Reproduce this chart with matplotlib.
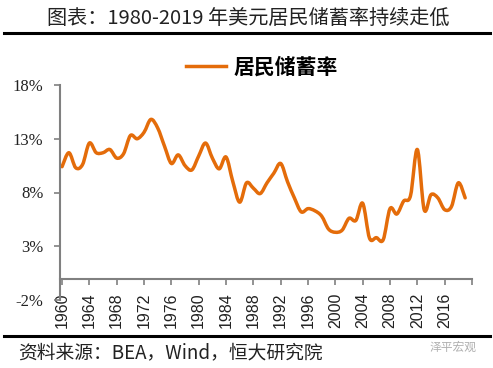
import numpy as np
import matplotlib
matplotlib.use("Agg")
import matplotlib.pyplot as plt
from matplotlib.path import Path
from matplotlib.patches import PathPatch
from matplotlib.lines import Line2D

# 数据：美国居民储蓄率 (%)
anos = list(range(1960, 2020))
taxa = [10.4, 11.7, 10.3, 10.6, 12.6, 11.7, 11.7, 12.0, 11.2, 11.6,
        13.3, 13.0, 13.6, 14.8, 14.0, 12.3, 10.7, 11.5, 10.5, 10.1,
        11.4, 12.6, 11.2, 10.2, 11.3, 9.0, 7.1, 8.9, 8.4, 7.9,
        8.9, 9.8, 10.7, 9.0, 7.5, 6.2, 6.5, 6.3, 5.8, 4.6,
        4.3, 4.5, 5.6, 5.4, 7.0, 3.75, 3.8, 3.6, 6.5, 6.0,
        7.2, 7.7, 12.0, 6.4, 7.8, 7.5, 6.4, 6.7, 8.9, 7.5]
yticks = [-2, 3, 8, 13, 18]
ylabels = ["-2%", "3%", "8%", "13%", "18%"]
xlabels = [str(a) for a in range(1960, 2020, 4)]

laranja = "#E46C0A"
cinza = "#808080"


def curva_suave(x, y):
    # curva tipo Excel (Catmull-Rom em Bezier)
    pts = np.column_stack([x, y]).astype(float)
    ext = np.vstack([pts[0], pts, pts[-1]])
    verts = [pts[0]]
    codes = [Path.MOVETO]
    for i in range(len(pts) - 1):
        p0, p1, p2, p3 = ext[i], ext[i + 1], ext[i + 2], ext[i + 3]
        c1 = p1 + (p2 - p0) / 6
        c2 = p2 - (p3 - p1) / 6
        verts += [c1, c2, p2]
        codes += [Path.CURVE4] * 3
    return Path(verts, codes)


fig = plt.figure(figsize=(4.93, 3.68), dpi=100)
ax = fig.add_axes([60 / 493, 1 - 300 / 368, 412 / 493, 215 / 368])

patch = PathPatch(curva_suave(anos, taxa), fill=False, edgecolor=laranja,
                  lw=2.5, capstyle="round", joinstyle="round")
ax.add_patch(patch)

ax.set_xlim(1959.7, 2019.7)
ax.set_ylim(-2, 18)

for s in ["top", "right"]:
    ax.spines[s].set_visible(False)
ax.spines["left"].set_color(cinza)
ax.spines["left"].set_linewidth(1.5)
ax.spines["bottom"].set_color(cinza)
ax.spines["bottom"].set_linewidth(1.5)
ax.spines["bottom"].set_position(("data", 0))

ax.set_yticks(yticks)
ax.set_yticklabels(ylabels, family="Liberation Serif", fontsize=12, color="#222222")
xt = list(range(1960, 2021, 4))
ax.set_xticks(xt)
ax.set_xticklabels(xlabels + [""], family="Liberation Sans", fontsize=11.5,
                   rotation=90, color="#222222")
ax.tick_params(axis="both", direction="out", length=4, width=1.2, color=cinza)
ax.tick_params(axis="y", pad=8)
ax.tick_params(axis="x", pad=6)

# legenda
leg_line = Line2D([0], [0], color=laranja, lw=2.5)
fig.legend([leg_line], ["居民储蓄率"], loc="center", bbox_to_anchor=(262 / 493, 1 - 67 / 368),
           frameon=False, handlelength=1.9, handletextpad=0.35,
           prop={"family": "Noto Sans CJK SC", "size": 15, "weight": "bold"})

# título e regras
fig.text(248 / 493, 1 - 18 / 368, "图表：1980-2019 年美元居民储蓄率持续走低",
         ha="center", va="center", fontsize=14.5, family=["Noto Sans CJK SC", "DejaVu Sans"],
         color="#222222")
fig.add_artist(Line2D([4 / 493, 490 / 493], [1 - 33 / 368] * 2, color="black", lw=2.2))
fig.add_artist(Line2D([4 / 493, 490 / 493], [1 - 335.5 / 368] * 2, color="black", lw=2.2))

fig.text(18 / 493, 1 - 353 / 368, "资料来源：BEA，Wind，恒大研究院",
         ha="left", va="center", fontsize=13.5, style="italic",
         family=["Noto Sans CJK SC", "DejaVu Sans"], color="#222222")
fig.text(430 / 493, 1 - 347 / 368, "泽平宏观", ha="left", va="center", fontsize=8.5,
         family=["Noto Sans CJK SC", "DejaVu Sans"], color="#b0b0b0")

plt.savefig("out.png", dpi=100)
plt.close()
